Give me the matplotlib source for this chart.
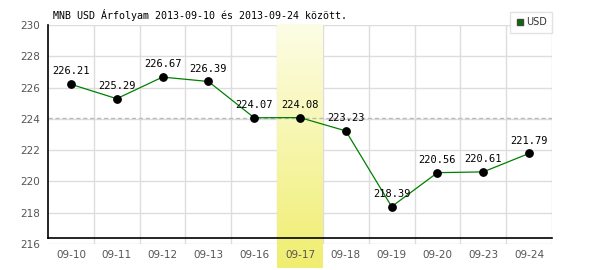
import numpy as np
import matplotlib
matplotlib.use("Agg")
import matplotlib.pyplot as plt
from matplotlib.colors import LinearSegmentedColormap

dates = ["09-10", "09-11", "09-12", "09-13", "09-16", "09-17",
         "09-18", "09-19", "09-20", "09-23", "09-24"]
usd = [226.21, 225.29, 226.67, 226.39, 224.07, 224.08,
       223.23, 218.39, 220.56, 220.61, 221.79]
highlight = "09-17"
title = "MNB USD Árfolyam 2013-09-10 és 2013-09-24 között."

fig = plt.figure(figsize=(6, 2.7), dpi=100)
ax = fig.add_axes([0.08, 0.0963, 0.84, 0.8111])

x = np.arange(len(dates))
ax.set_xlim(-0.5, len(dates) - 0.5)
ax.set_ylim(216, 230)

# grid
for yv in range(216, 231, 2):
    ax.axhline(yv, color="#dddddd", lw=1, zorder=0)
for xv in np.arange(0.5, len(dates) - 0.5, 1):
    ax.axvline(xv, color="#dddddd", lw=1, zorder=0)
ax.axvline(len(dates) - 0.5, color="#dddddd", lw=1, zorder=0)

# highlighted day band with gradient
hi = dates.index(highlight)
cmap = LinearSegmentedColormap.from_list("band", ["#fdfde6", "#f0ee70"])
grad = np.linspace(0, 1, 100).reshape(-1, 1)
ax.imshow(grad, cmap=cmap, aspect="auto", origin="upper",
          extent=(hi - 0.5, hi + 0.5, 214.45, 230), zorder=0.5, clip_on=False)
ax.set_xlim(-0.5, len(dates) - 0.5)
ax.set_ylim(216, 230)

# reference line at highlighted value
ax.axhline(usd[hi], color="#bbbbbb", lw=1, ls=(0, (3, 2)), zorder=1)

ax.plot(x, usd, color="#008000", lw=0.9, zorder=2)
ax.scatter(x, usd, s=28, color="black", zorder=3)
for xi, v in zip(x, usd):
    ax.text(xi, v + 0.5, "%.2f" % v, ha="center", va="bottom",
            family="DejaVu Sans Mono", fontsize=7.5, color="black", zorder=4)

# axis lines
ax_base = 216.38
ax.plot([-0.5, len(dates) - 0.5], [ax_base, ax_base], color="black", lw=1.2,
        zorder=5, clip_on=False)
ax.plot([-0.5, -0.5], [ax_base, 230], color="black", lw=1.2, zorder=5,
        clip_on=False)
for s in ax.spines.values():
    s.set_visible(False)

ax.set_xticks(x)
ax.set_xticklabels(dates)
ax.set_yticks(range(216, 231, 2))
ax.tick_params(axis="both", length=0, labelsize=7.5, labelcolor="#555555")
ax.tick_params(axis="x", pad=4)
ax.tick_params(axis="y", pad=6)

fig.text(0.088, 0.945, title, family="DejaVu Sans Mono", fontsize=7.2,
         color="black", va="center", ha="left")

# legend
leg = ax.legend(handles=[plt.Line2D([], [], marker="s", ls="", color="#007000",
                                    markeredgecolor="#444444", markersize=5,
                                    label="USD")],
                loc="upper right", bbox_to_anchor=(0.92, 0.955),
                bbox_transform=fig.transFigure, frameon=True, fancybox=False,
                fontsize=7, handletextpad=0.1, borderpad=0.55,
                handlelength=1, labelcolor="#333333", borderaxespad=0)
leg.get_frame().set_edgecolor("#dddddd")
leg.get_frame().set_linewidth(1)

fig.savefig("out.png", dpi=100)
